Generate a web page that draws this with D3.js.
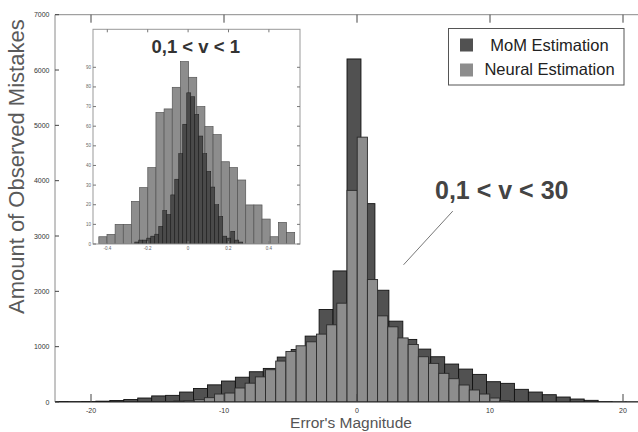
<!DOCTYPE html>
<html><head><meta charset="utf-8">
<script src="https://cdn.jsdelivr.net/npm/d3@7"></script>
<style>body{margin:0;background:#fff}svg{display:block}text{font-family:"Liberation Sans",Arial,sans-serif}</style>
</head><body><svg id="c" width="638" height="432"></svg>
<script>
// ---- data ----
const seriesNames = ["MoM Estimation", "Neural Estimation"];
// main histogram (0,1 < v < 30)
const momStart = -22.78, momWidth = 1.049;
const momCounts = [8,6,8,15,28,45,72,110,120,180,244,310,379,448,547,607,812,950,1191,1672,2369,6200,3585,2020,1461,1131,956,818,686,595,499,367,337,229,180,132,90,54,30,6,3,2];
const neuStart = -16.07, neuWidth = 0.766;
const neuCounts = [2,3,6,18,24,42,78,144,162,253,340,454,583,740,914,1016,1088,1227,1395,1786,3825,4787,2213,1557,1359,1158,1040,818,698,518,421,307,217,144,72,24,6,3,1];
const xTicks = [-20,-10,0,10,20];
const yTicks = [0,1000,2000,3000,4000,5000,6000,7000];
// inset histogram (0,1 < v < 1)
const inNeuStart = -0.442, inNeuWidth = 0.0404;
const inNeuCounts = [3.7,4.9,10,10,21.7,28.7,38.9,67,68.8,79.8,92.9,84.9,70,59.8,55.7,41.9,38.9,32.6,19.9,19.9,12.7,3.7,11,5.9];
const inMomStart = -0.264, inMomWidth = 0.0198;
const inMomCounts = [1,2,2,3,4,5,9,17,15,25,33,46,61,77,75,66,55,46,37,29,20,14,4,3,6.5,2,1];
const inXTicks = [-0.4,-0.2,0,0.2,0.4];
const inYTicks = [0,10,20,30,40,50,60,70,80,90];
const titleMain = "0,1 < v < 30", titleInset = "0,1 < v < 1";

// ---- drawing ----
const svg = d3.select("#c");
const cMom = "#515151", cNeu = "#8d8d8d";
const L = 55, R = 640, T = 14.7, B = 402;
const x = d3.scaleLinear().domain([-20,20]).range([91,623]);
const y = d3.scaleLinear().domain([0,7000]).range([B,T]);

svg.append("clipPath").attr("id","pc").append("rect").attr("x",L).attr("y",T).attr("width",R-L).attr("height",B-T);
const g = svg.append("g").attr("clip-path","url(#pc)");

function hist(sel, start, w, counts, xs, ys, fill, stroke, sw){
  sel.selectAll(null).data(counts).join("rect")
    .attr("x", (d,i)=>xs(start+i*w))
    .attr("width", (d,i)=>xs(start+(i+1)*w)-xs(start+i*w))
    .attr("y", d=>ys(d))
    .attr("height", d=>ys(0)-ys(d))
    .attr("fill", fill).attr("stroke", stroke).attr("stroke-width", sw);
}
hist(g.append("g"), momStart, momWidth, momCounts, x, y, cMom, "#111", 0.9);
hist(g.append("g"), neuStart, neuWidth, neuCounts, x, y, cNeu, "#2a2a2a", 0.9);

// frame
svg.append("line").attr("x1",L).attr("x2",L).attr("y1",T).attr("y2",B).attr("stroke","#8a8a8a");
svg.append("line").attr("x1",L).attr("x2",R).attr("y1",T).attr("y2",T).attr("stroke","#8a8a8a");
svg.append("line").attr("x1",L).attr("x2",R).attr("y1",B).attr("y2",B).attr("stroke","#222").attr("stroke-width",1.2);

// x ticks
xTicks.forEach(t=>{
  svg.append("line").attr("x1",x(t)).attr("x2",x(t)).attr("y1",B).attr("y2",B-8).attr("stroke","#444");
  svg.append("line").attr("x1",x(t)).attr("x2",x(t)).attr("y1",T).attr("y2",T+8).attr("stroke","#444");
  svg.append("text").attr("x",x(t)).attr("y",412.5).attr("text-anchor","middle").attr("font-size",7).attr("fill","#333").text(t);
});
yTicks.forEach(t=>{
  svg.append("line").attr("x1",L).attr("x2",L+4).attr("y1",y(t)).attr("y2",y(t)).attr("stroke","#444");
  svg.append("text").attr("x",49.5).attr("y",y(t)+2.5).attr("text-anchor","end").attr("font-size",7).attr("fill","#333").text(t);
});
svg.append("text").attr("x",351).attr("y",428).attr("text-anchor","middle").attr("font-size",15.5).attr("fill","#555").text("Error's Magnitude");
svg.append("text").attr("transform","translate(24,166.7) rotate(-90)").attr("text-anchor","middle").attr("font-size",22).attr("fill","#5a5a5a").text("Amount of Observed Mistakes");

// annotation
svg.append("line").attr("x1",x(7.2)).attr("y1",y(3450)).attr("x2",x(3.5)).attr("y2",y(2480)).attr("stroke","#777").attr("stroke-width",1);
svg.append("text").attr("x",435).attr("y",199.3).attr("font-size",25).attr("font-weight","bold").attr("fill","#444").text(titleMain);

// legend
const lg = svg.append("g");
lg.append("rect").attr("x",448.5).attr("y",28.5).attr("width",175.5).attr("height",56.5).attr("fill","#fff").attr("stroke","#555");
[cMom,cNeu].forEach((c,i)=>{
  lg.append("rect").attr("x",460).attr("y",38.5+i*25).attr("width",13).attr("height",13).attr("fill",c);
  lg.append("text").attr("x",549.5).attr("y",50.7+i*24.5).attr("text-anchor","middle").attr("font-size",16.5).attr("fill","#222").text(seriesNames[i]);
});

// inset
const iL = 93, iR = 300, iT = 29.3, iB = 244;
const ix = d3.scaleLinear().domain([-0.4,0.4]).range([107.3,268.9]);
const iy = d3.scaleLinear().domain([0,90]).range([iB,67.3]);
svg.append("rect").attr("x",iL).attr("y",iT).attr("width",iR-iL).attr("height",iB-iT).attr("fill","#fff");
svg.append("clipPath").attr("id","ic").append("rect").attr("x",iL).attr("y",iT).attr("width",iR-iL).attr("height",iB-iT);
const ig = svg.append("g").attr("clip-path","url(#ic)");
hist(ig.append("g"), inNeuStart, inNeuWidth, inNeuCounts, ix, iy, cNeu, "#555", 0.7);
hist(ig.append("g"), inMomStart, inMomWidth, inMomCounts, ix, iy, "#4a4a4a", "#1a1a1a", 0.5);
svg.append("rect").attr("x",iL).attr("y",iT).attr("width",iR-iL).attr("height",iB-iT).attr("fill","none").attr("stroke","#999");
inXTicks.forEach(t=>{
  svg.append("line").attr("x1",ix(t)).attr("x2",ix(t)).attr("y1",iB).attr("y2",iB-3).attr("stroke","#777");
  svg.append("line").attr("x1",ix(t)).attr("x2",ix(t)).attr("y1",iT).attr("y2",iT+3).attr("stroke","#777");
  svg.append("text").attr("x",ix(t)).attr("y",iB+5.5).attr("text-anchor","middle").attr("font-size",4.5).attr("fill","#666").text(t);
});
inYTicks.forEach(t=>{
  svg.append("line").attr("x1",iL).attr("x2",iL+3).attr("y1",iy(t)).attr("y2",iy(t)).attr("stroke","#777");
  svg.append("line").attr("x1",iR).attr("x2",iR-3).attr("y1",iy(t)).attr("y2",iy(t)).attr("stroke","#777");
  svg.append("text").attr("x",iL-2).attr("y",iy(t)+1.5).attr("text-anchor","end").attr("font-size",4.5).attr("fill","#666").text(t);
});
svg.append("text").attr("x",195.7).attr("y",53.3).attr("text-anchor","middle").attr("font-size",18.5).attr("font-weight","bold").attr("fill","#333").text(titleInset);
</script></body></html>
